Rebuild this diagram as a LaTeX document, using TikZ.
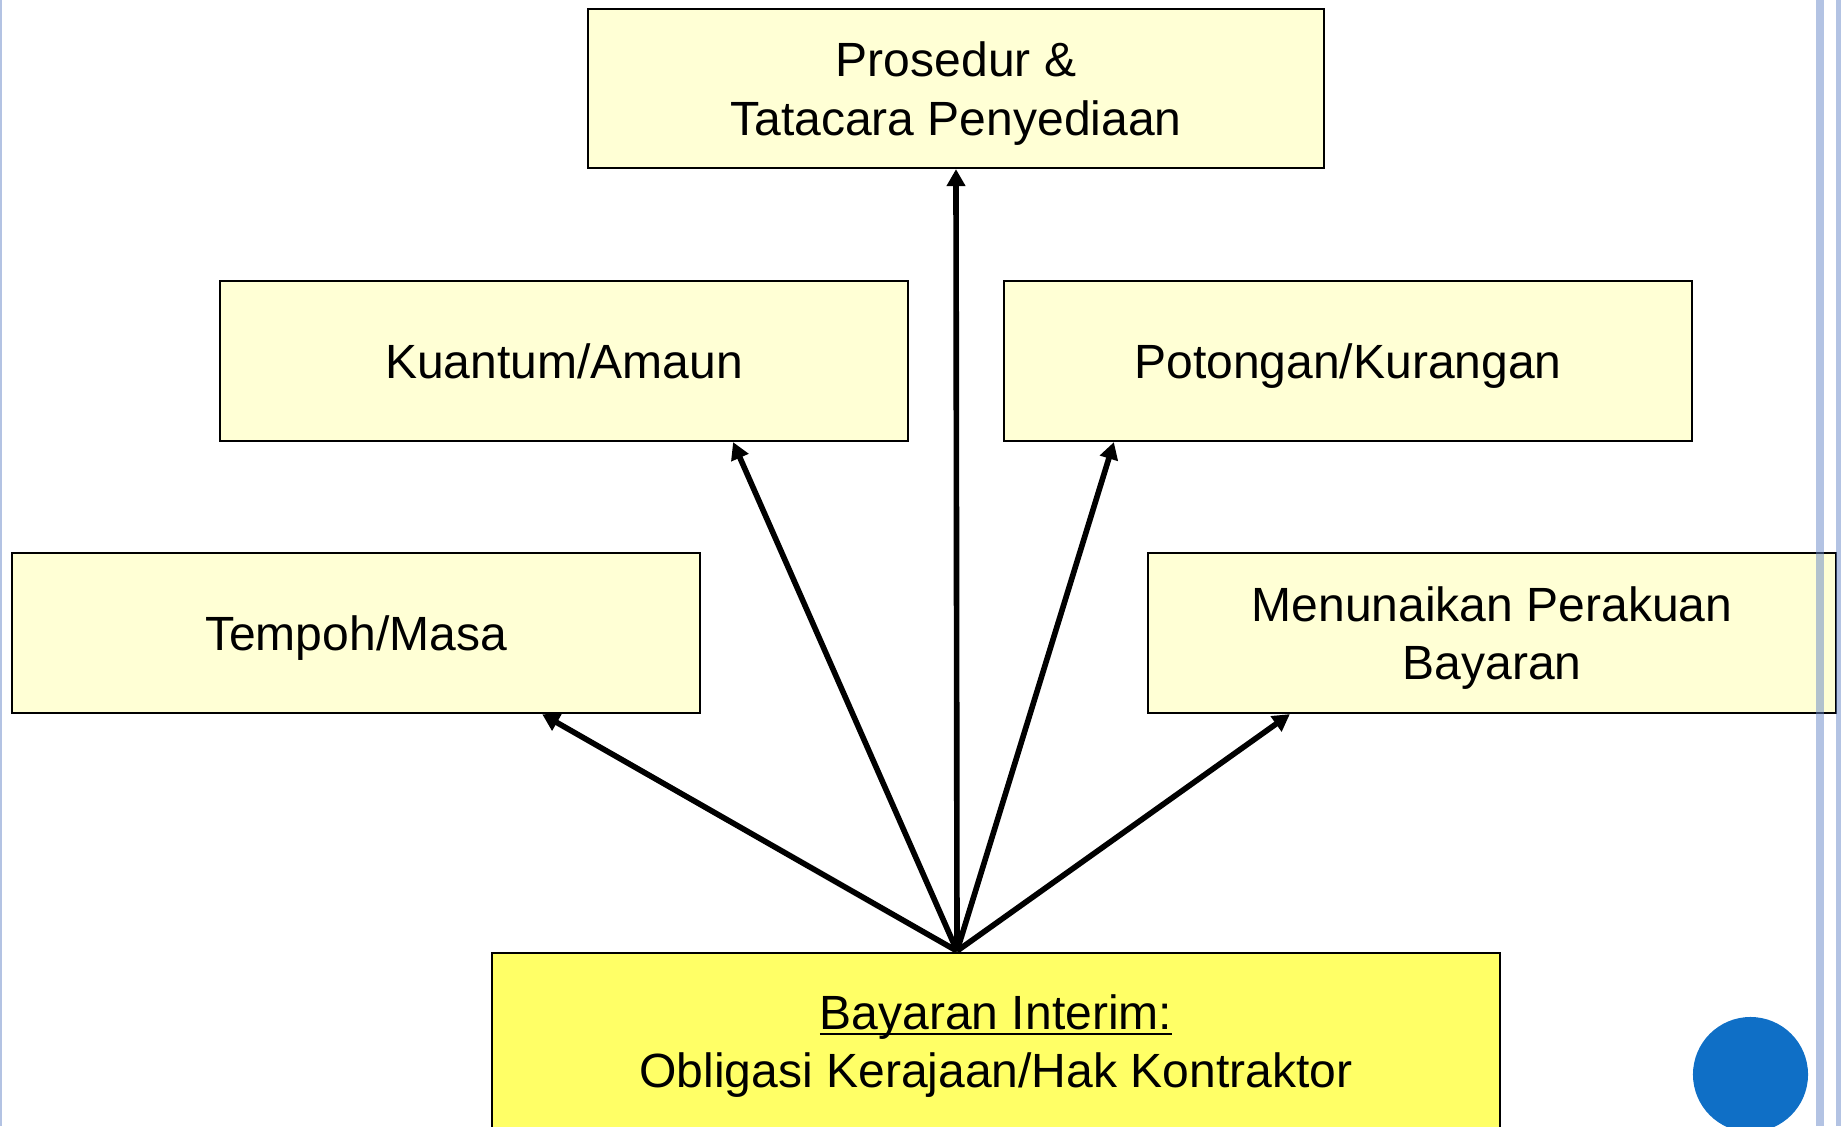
\documentclass[tikz,border=0pt]{standalone}
\usepackage{fontspec}
\setmainfont{Liberation Sans}
\usetikzlibrary{arrows.meta, positioning}

\definecolor{paleyellow}{HTML}{FFFFD5}
\definecolor{brightyellow}{HTML}{FFFF66}
\definecolor{dotblue}{HTML}{0F6FC6}
\definecolor{railblue}{HTML}{6787C7}

\begin{document}
\begin{tikzpicture}[x=0.01cm, y=-0.01cm,
    box/.style={draw=black, line width=0.6pt, fill=paleyellow, align=center, inner sep=0pt,
        text depth=0pt, minimum width=6.88cm, minimum height=1.6cm,
        font=\fontsize{13.66pt}{16.7pt}\selectfont},
    link/.style={line width=1.6pt, -{Triangle[width=0.18cm, length=0.17cm]}}]
    \useasboundingbox (0,0) rectangle (1841,1126);
    \clip (0,0) rectangle (1841,1126);

    % Define nodes
    \node[box, minimum width=7.36cm, minimum height=1.59cm] (prosedur) at (956,88.5) {Prosedur \&\\Tatacara Penyediaan};
    \node[box] (kuantum) at (564,361) {Kuantum/Amaun};
    \node[box] (potongan) at (1348,361) {Potongan/Kurangan};
    \node[box] (tempoh) at (356,633) {Tempoh/Masa};
    \node[box] (menunaikan) at (1492,633) {Menunaikan Perakuan\\Bayaran};
    \node[box, fill=brightyellow, minimum width=10.08cm, minimum height=1.78cm] (bayaran) at (996,1042)
        {\vphantom{B}\underline{\smash{Bayaran Interim:}}\\Obligasi Kerajaan/Hak Kontraktor};
    \coordinate (hub) at (957,951);

    % Draw edges
    \draw[link] (hub) -- (prosedur.south);
    \draw[link] (hub) -- ([xshift=1.69cm]kuantum.south);
    \draw[link] (hub) -- ([xshift=-2.34cm]potongan.south);
    \draw[link] (hub) -- ([xshift=1.86cm]tempoh.south);
    \draw[link] (hub) -- ([xshift=-2.02cm]menunaikan.south);

    % Slide frame
    \fill[dotblue] (1750.5,1074.5) circle [radius=0.575cm];
    \fill[railblue, opacity=0.5] (0,0) rectangle (2,1126);
    \fill[railblue, opacity=0.5] (1816,0) rectangle (1824,1126);
    \fill[railblue, opacity=0.5] (1836,0) rectangle (1841,1126);

\end{tikzpicture}
\end{document}
